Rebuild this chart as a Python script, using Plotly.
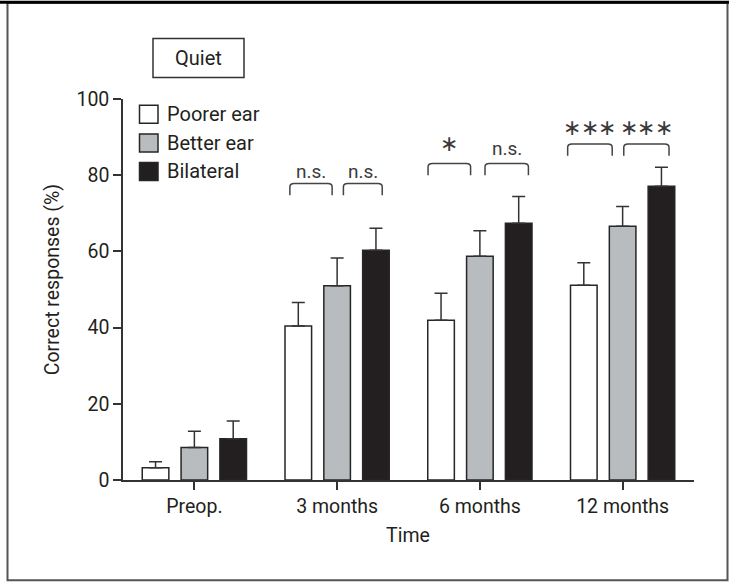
import plotly.graph_objects as go

# ---- data ----
categories = ["Preop.", "3 months", "6 months", "12 months"]
series_names = ["Poorer ear", "Better ear", "Bilateral"]
poorer = [3.2, 40.4, 41.9, 51.1]
poorer_err = [1.6, 6.2, 7.1, 5.9]
better = [8.5, 51.0, 58.7, 66.6]
better_err = [4.3, 7.3, 6.7, 5.2]
bilateral = [10.8, 60.3, 67.4, 77.1]
bilateral_err = [4.7, 5.8, 7.0, 5.0]
y_ticks = [0, 20, 40, 60, 80, 100]
# significance brackets: (x start, x end, bracket top, label, label y)
sig_x0 = [0.669, 1.044, 1.637, 2.036, 2.615, 3.008]
sig_x1 = [0.965, 1.316, 1.935, 2.340, 2.927, 3.325]
sig_top = [77.85, 77.85, 83.1, 83.1, 88.2, 88.2]
sig_label = ["n.s.", "n.s.", "*", "n.s.", "***", "***"]
sig_label_y = [81.1, 81.1, 88.3, 87.0, 92.6, 92.6]

FONT = "Roboto"
TXT = "#231f20"
fills = ["#ffffff", "#b9bcbf", "#231f20"]
values = [poorer, better, bilateral]
errors = [poorer_err, better_err, bilateral_err]

W, H = 729, 584
L, R, T, B = 123, 694, 98.5, 480

def px(x):
    return (x - L) / (R - L)

def py(y):
    return (B - y) / (B - T)

fig = go.Figure()
xs = list(range(len(categories)))
for name, vals, errs, col in zip(series_names, values, errors, fills):
    fig.add_trace(go.Bar(
        x=xs, y=vals, name=name,
        marker=dict(color=col, line=dict(color="#262626", width=1.5)),
        error_y=dict(type="data", array=errs, arrayminus=[0] * len(errs),
                     symmetric=False, color="#333333", thickness=1.5, width=6.5),
        showlegend=False,
    ))

shapes = []
annotations = []
leg = 3.1
star_step = 17.5 / (R - L) * 4  # ~17.5 px between stars, in category units
for x0, x1, top, lab, ly in zip(sig_x0, sig_x1, sig_top, sig_label, sig_label_y):
    r = 0.03
    path = (f"M {x0},{top-leg} L {x0},{top-0.9} Q {x0},{top} {x0+r},{top} "
            f"L {x1-r},{top} Q {x1},{top} {x1},{top-0.9} L {x1},{top-leg}")
    shapes.append(dict(type="path", path=path, xref="x", yref="y",
                       line=dict(color="#444444", width=1.5)))
    mid = (x0 + x1) / 2
    if lab.startswith("*"):
        n = len(lab)
        for k in range(n):
            annotations.append(dict(x=mid + (k - (n - 1) / 2) * star_step, y=ly,
                                    xref="x", yref="y", text="∗", showarrow=False,
                                    xanchor="center", yanchor="middle",
                                    font=dict(family="DejaVu Sans", size=22,
                                              color="#3a3a3a")))
    else:
        annotations.append(dict(x=mid, y=ly, xref="x", yref="y", text=lab,
                                showarrow=False, xanchor="center", yanchor="middle",
                                font=dict(family=FONT, size=19, color="#3a3a3a")))

# legend (manual)
leg_y = [113.8, 142.5, 171]
for name, col, yy in zip(series_names, fills, leg_y):
    shapes.append(dict(type="rect", xref="paper", yref="paper",
                       x0=px(139.5), x1=px(158), y0=py(yy - 9), y1=py(yy + 9),
                       fillcolor=col, line=dict(color="#262626", width=1.5)))
    annotations.append(dict(x=px(165), y=py(yy), xref="paper", yref="paper",
                            text=name, showarrow=False, xanchor="left", yanchor="middle",
                            font=dict(family=FONT, size=20, color=TXT)))

# "Quiet" box
shapes.append(dict(type="rect", xref="paper", yref="paper",
                   x0=px(153), x1=px(244), y0=py(77), y1=py(38),
                   line=dict(color="#333333", width=1.5)))
annotations.append(dict(x=px(198.5), y=py(57.5), xref="paper", yref="paper",
                        text="Quiet", showarrow=False, xanchor="center", yanchor="middle",
                        font=dict(family=FONT, size=20, color=TXT)))

# y-axis title
annotations.append(dict(x=px(52), y=py(280), xref="paper", yref="paper",
                        text="Correct responses (%)", textangle=-90, showarrow=False,
                        xanchor="center", yanchor="middle",
                        font=dict(family=FONT, size=19.5, color=TXT)))
# x-axis title
annotations.append(dict(x=px(408), y=py(536), xref="paper", yref="paper",
                        text="Time", showarrow=False, xanchor="center", yanchor="middle",
                        font=dict(family=FONT, size=19.5, color=TXT)))

# outer frame
shapes.append(dict(type="rect", xref="paper", yref="paper",
                   x0=px(7.5), x1=px(727.5), y0=py(580.5), y1=py(2),
                   line=dict(color="#555555", width=2)))
shapes.append(dict(type="line", xref="paper", yref="paper",
                   x0=px(0), x1=px(729), y0=py(1.5), y1=py(1.5),
                   line=dict(color="#000000", width=3)))

fig.update_layout(
    width=W, height=H,
    margin=dict(l=L, r=W - R, t=T, b=H - B, pad=0),
    paper_bgcolor="white", plot_bgcolor="white",
    barmode="group", bargap=0.184, bargroupgap=0.315,
    font=dict(family=FONT, size=19, color=TXT),
    shapes=shapes, annotations=annotations,
    xaxis=dict(range=[-0.5, 3.5], tickvals=xs, ticktext=categories,
               showline=True, linecolor="#333333", linewidth=1.5,
               ticks="outside", ticklen=8, tickwidth=1.5, tickcolor="#333333",
               showgrid=False, zeroline=False, fixedrange=True,
               tickfont=dict(family=FONT, size=19.5, color=TXT)),
    yaxis=dict(range=[0, 100], tickvals=y_ticks,
               showline=True, linecolor="#333333", linewidth=1.5,
               ticks="outside", ticklen=8, tickwidth=1.5, tickcolor="#333333",
               showgrid=False, zeroline=False, fixedrange=True,
               tickfont=dict(family=FONT, size=19.5, color=TXT)),
)

fig.write_html("out.html", config={"displayModeBar": False},
               post_script="document.body.style.margin='0';document.body.style.padding='0';")
